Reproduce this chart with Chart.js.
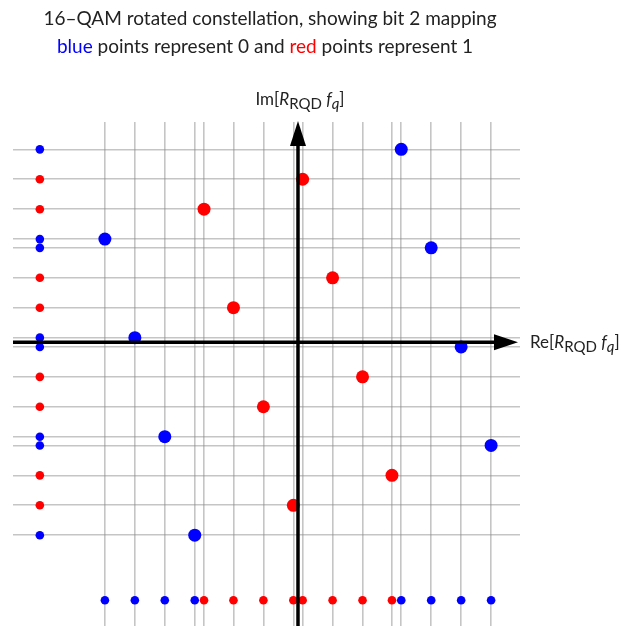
<!DOCTYPE html>
<html>
<head>
<meta charset="utf-8">
<script src="https://cdn.jsdelivr.net/npm/chart.js@4.4.0/dist/chart.umd.min.js"></script>
<style>
    html, body { margin: 0; padding: 0; background: #fff; }
    #wrap { width: 624px; height: 626px; }
</style>
</head>
<body>
<div id="wrap"><canvas id="qamChart" width="624" height="626"></canvas></div>
<script>
// constellation points (Re, Im)
const blueRe = [2.00, -3.74, 2.58, -3.16, 3.16, -2.58, 3.74, -2.00];
const blueIm = [3.74, 2.00, 1.83, 0.09, -0.09, -1.83, -2.00, -3.74];
const redRe = [0.09, -1.82, 0.67, -1.25, 1.25, -0.67, 1.82, -0.09];
const redIm = [3.16, 2.58, 1.25, 0.67, -0.67, -1.25, -2.58, -3.16];

// projections are drawn along this line on both axes
const projLine = -5.0;

const titleLine1 = "16\u2013QAM rotated constellation, showing bit 2 mapping";
const titleLine2 = [
    ["blue", "#0000ff"], [" points represent 0 and ", "#222"],
    ["red", "#ff0000"], [" points represent 1", "#222"]
];

const BLUE = "#0000ff";
const RED = "#ff0000";
const FONT = "Lato, 'Open Sans', sans-serif";

const gridRe = blueRe.concat(redRe);
const gridIm = blueIm.concat(redIm);

const pts = (xs, ys) => xs.map((x, i) => ({ x: x, y: ys[i] }));

// draws a label like Im[R_RQD f_q] from small pieces
function richText(ctx, parts, x, y, align) {
    let total = 0;
    parts.forEach(p => {
        ctx.font = p.font;
        p.w = ctx.measureText(p.t).width;
        total += p.w;
    });
    let cx = align === "center" ? x - total / 2 : x;
    parts.forEach(p => {
        ctx.font = p.font;
        ctx.fillText(p.t, cx, y + (p.dy || 0));
        cx += p.w;
    });
}

function axisLabel(prefix) {
    return [
        { t: prefix + "[", font: "17px " + FONT },
        { t: "R", font: "italic 17px " + FONT },
        { t: "RQD", font: "15px " + FONT, dy: 4 },
        { t: " ", font: "17px " + FONT },
        { t: "f", font: "italic 17px " + FONT },
        { t: "q", font: "italic 15px " + FONT, dy: 4 },
        { t: "]", font: "17px " + FONT }
    ];
}

const axesPlugin = {
    id: "axesArrows",
    afterDatasetsDraw(chart) {
        const ctx = chart.ctx;
        const xs = chart.scales.x;
        const ys = chart.scales.y;
        const area = chart.chartArea;
        const x0 = xs.getPixelForValue(0);
        const y0 = ys.getPixelForValue(0);
        const tipX = area.right - 2;
        const tipY = area.top - 1;

        ctx.save();
        ctx.strokeStyle = "#000";
        ctx.fillStyle = "#000";
        ctx.lineWidth = 3.5;

        ctx.beginPath();
        ctx.moveTo(area.left, y0);
        ctx.lineTo(tipX - 16, y0);
        ctx.moveTo(x0, area.bottom);
        ctx.lineTo(x0, tipY + 16);
        ctx.stroke();

        // arrow heads
        ctx.beginPath();
        ctx.moveTo(tipX, y0);
        ctx.lineTo(tipX - 24, y0 - 8);
        ctx.lineTo(tipX - 24, y0 + 8);
        ctx.closePath();
        ctx.fill();

        ctx.beginPath();
        ctx.moveTo(x0, tipY);
        ctx.lineTo(x0 - 8, tipY + 25);
        ctx.lineTo(x0 + 8, tipY + 25);
        ctx.closePath();
        ctx.fill();

        ctx.fillStyle = "#222";
        ctx.textBaseline = "alphabetic";
        richText(ctx, axisLabel("Im"), x0 + 2, 105, "center");
        richText(ctx, axisLabel("Re"), 530, y0 + 6, "left");

        // title
        const mid = 270;
        ctx.font = "19px " + FONT;
        ctx.textAlign = "left";
        const w1 = ctx.measureText(titleLine1).width;
        ctx.fillText(titleLine1, mid - w1 / 2, 25);

        let w2 = 0;
        titleLine2.forEach(s => { w2 += ctx.measureText(s[0]).width; });
        let cx = mid - 5 - w2 / 2;
        titleLine2.forEach(s => {
            ctx.fillStyle = s[1];
            ctx.fillText(s[0], cx, 53);
            cx += ctx.measureText(s[0]).width;
        });
        ctx.restore();
    }
};

const gridScale = (values, lo, hi) => ({
    type: "linear",
    min: lo,
    max: hi,
    afterBuildTicks: (scale) => {
        scale.ticks = values.map(v => ({ value: v }));
    },
    ticks: { display: false },
    grid: { color: "rgba(140,140,140,0.5)", lineWidth: 1.6, drawTicks: false },
    border: { display: false }
});

new Chart(document.getElementById("qamChart"), {
    type: "scatter",
    data: {
        datasets: [
            {
                label: "bit 0",
                data: pts(blueRe, blueIm),
                backgroundColor: BLUE,
                pointRadius: 6.5,
                borderWidth: 0
            },
            {
                label: "bit 1",
                data: pts(redRe, redIm),
                backgroundColor: RED,
                pointRadius: 6.5,
                borderWidth: 0
            },
            {
                label: "bit 0 projections",
                data: pts(blueRe, blueRe.map(() => projLine))
                    .concat(pts(blueIm.map(() => projLine), blueIm)),
                backgroundColor: BLUE,
                pointRadius: 4.3,
                borderWidth: 0
            },
            {
                label: "bit 1 projections",
                data: pts(redRe, redRe.map(() => projLine))
                    .concat(pts(redIm.map(() => projLine), redIm)),
                backgroundColor: RED,
                pointRadius: 4.3,
                borderWidth: 0
            }
        ]
    },
    options: {
        responsive: false,
        animation: false,
        layout: {
            autoPadding: false,
            padding: { left: 13, right: 104, top: 122, bottom: 0 }
        },
        plugins: {
            legend: { display: false },
            tooltip: { enabled: false },
            title: { display: false }
        },
        scales: {
            x: gridScale(gridRe, -5.52, 4.3),
            y: gridScale(gridIm, -5.5, 4.27)
        }
    },
    plugins: [axesPlugin]
});
</script>
</body>
</html>
